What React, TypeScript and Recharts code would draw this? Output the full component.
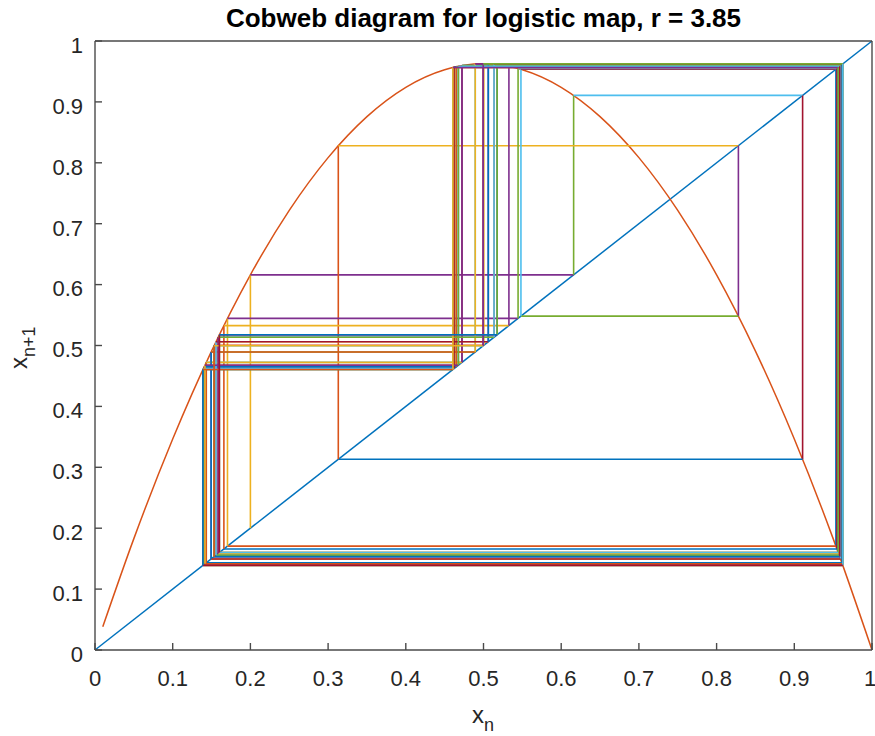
import React from "react";
import { LineChart, Line, XAxis, YAxis } from "recharts";

// ---- data ----
const TICKS = [0, 0.1, 0.2, 0.3, 0.4, 0.5, 0.6, 0.7, 0.8, 0.9, 1];
const TICK_LABELS = ["0", "0.1", "0.2", "0.3", "0.4", "0.5", "0.6", "0.7", "0.8", "0.9", "1"];

const TITLE = "Cobweb diagram for logistic map, r = 3.85";

// diagonal y = x
const DIAG_X = [0, 1];
const DIAG_Y = [0, 1];

// logistic curve r x (1 - x), r = 3.85
const CURVE_X = [0.01, 0.05, 0.1, 0.15, 0.2, 0.25, 0.3, 0.35, 0.4, 0.45, 0.5, 0.55, 0.6, 0.65, 0.7, 0.75, 0.8, 0.85, 0.9, 0.95, 1];
const CURVE_Y = [0.038115, 0.182875, 0.3465, 0.490875, 0.616, 0.721875, 0.8085, 0.875875, 0.924, 0.952875, 0.9625, 0.952875, 0.924, 0.875875, 0.8085, 0.721875, 0.616, 0.490875, 0.3465, 0.182875, 0];

// orbit x0 .. x80
const ORBIT = [
  0.2, 0.616, 0.910694, 0.313121, 0.828043, 0.548192, 0.953559, 0.170496, 0.544494, 0.954878,
  0.165881, 0.532704, 0.958382, 0.15356, 0.500421, 0.962499, 0.138963, 0.460662, 0.956542, 0.160041,
  0.517548, 0.961315, 0.143177, 0.472309, 0.959548, 0.149441, 0.489367, 0.962065, 0.14051, 0.464954,
  0.957771, 0.155715, 0.506151, 0.962354, 0.13948, 0.462096, 0.956969, 0.158541, 0.513613, 0.961787,
  0.1415, 0.467688, 0.95848, 0.153213, 0.499495, 0.962499, 0.138964, 0.460665, 0.956543, 0.160038,
  0.517539, 0.961316, 0.143173, 0.472298, 0.959545, 0.149449, 0.489389, 0.962067, 0.140504, 0.464936,
  0.957766, 0.155732, 0.506196, 0.962352, 0.139487, 0.462118, 0.956975, 0.158519, 0.513555, 0.961793,
  0.141478, 0.46763, 0.958466, 0.153265, 0.499633, 0.962499, 0.138963, 0.460661, 0.956542, 0.160043,
  0.517552,
];

const PALETTE = ["#0072BD", "#D95319", "#EDB120", "#7E2F8E", "#77AC30", "#4DBEEE", "#A2142F"];

// ---- derived tables ----
const diagData = DIAG_X.map((x, i) => ({ x, y: DIAG_Y[i] }));
const curveData = CURVE_X.map((x, i) => ({ x, y: CURVE_Y[i] }));

type Seg = { data: { x: number; y: number }[]; color: string };
const segments: Seg[] = [];
for (let i = 0; i < ORBIT.length - 1; i++) {
  const a = ORBIT[i];
  const b = ORBIT[i + 1];
  const kV = 2 * i;
  const kH = 2 * i + 1;
  segments.push({ data: [{ x: a, y: a }, { x: a, y: b }], color: PALETTE[(kV + 2) % 7] });
  segments.push({ data: [{ x: a, y: b }, { x: b, y: b }], color: PALETTE[(kH + 2) % 7] });
}

const FONT = "'Liberation Sans', Arial, Helvetica, sans-serif";
const AXIS_COLOR = "#4a4a4a";
const TEXT_COLOR = "#262626";

const labelIndex = (v: number) => TICKS.findIndex((t) => Math.abs(t - v) < 1e-9);

const XTick = (props: any) => {
  const { x, y, payload } = props;
  const idx = labelIndex(payload.value);
  const last = idx === TICKS.length - 1;
  return (
    <text
      x={last ? x - 2 : x}
      y={y}
      dy="0.71em"
      textAnchor="middle"
      fontSize={22}
      fontFamily={FONT}
      fill={TEXT_COLOR}
    >
      {idx >= 0 ? TICK_LABELS[idx] : String(payload.value)}
    </text>
  );
};

const YTick = (props: any) => {
  const { x, y, payload } = props;
  const idx = labelIndex(payload.value);
  return (
    <text x={x} y={y + 4} dy="0.355em" textAnchor="end" fontSize={22} fontFamily={FONT} fill={TEXT_COLOR}>
      {idx >= 0 ? TICK_LABELS[idx] : String(payload.value)}
    </text>
  );
};

export default function App() {
  return (
    <div style={{ position: "absolute", left: 0, top: 0, width: 875, height: 736, background: "#fff" }}>
      <LineChart width={875} height={736} margin={{ top: 40, right: 2, bottom: 46, left: 35 }}>
        <XAxis
          xAxisId="b"
          dataKey="x"
          type="number"
          domain={[0, 1]}
          ticks={TICKS}
          interval={0}
          height={40}
          tickSize={-7}
          tickMargin={27}
          tick={<XTick />}
          stroke={AXIS_COLOR}
          strokeWidth={1.4}
        />
        <XAxis
          xAxisId="t"
          orientation="top"
          dataKey="x"
          type="number"
          domain={[0, 1]}
          ticks={TICKS}
          interval={0}
          height={1}
          tickSize={-7}
          tick={false}
          stroke={AXIS_COLOR}
          strokeWidth={1.4}
        />
        <YAxis
          yAxisId="l"
          type="number"
          domain={[0, 1]}
          ticks={TICKS}
          interval={0}
          width={60}
          tickSize={-7}
          tickMargin={19}
          tick={<YTick />}
          stroke={AXIS_COLOR}
          strokeWidth={1.4}
        />
        <YAxis
          yAxisId="r"
          orientation="right"
          type="number"
          domain={[0, 1]}
          ticks={TICKS}
          interval={0}
          width={1}
          tickSize={-7}
          tick={false}
          stroke={AXIS_COLOR}
          strokeWidth={1.4}
        />
        <Line
          xAxisId="b"
          yAxisId="l"
          data={diagData}
          dataKey="y"
          type="linear"
          stroke={PALETTE[0]}
          strokeWidth={1.5}
          dot={false}
          activeDot={false}
          isAnimationActive={false}
        />
        <Line
          xAxisId="b"
          yAxisId="l"
          data={curveData}
          dataKey="y"
          type="monotoneX"
          stroke={PALETTE[1]}
          strokeWidth={1.5}
          dot={false}
          activeDot={false}
          isAnimationActive={false}
        />
        {segments.map((s, i) => (
          <Line
            key={i}
            xAxisId="b"
            yAxisId="l"
            data={s.data}
            dataKey="y"
            type="linear"
            stroke={s.color}
            strokeWidth={1.6}
            dot={false}
            activeDot={false}
            isAnimationActive={false}
          />
        ))}
      </LineChart>
      <svg
        width={875}
        height={736}
        style={{ position: "absolute", left: 0, top: 0, pointerEvents: "none" }}
      >
        <text x={483.5} y={27} textAnchor="middle" fontSize={26} fontWeight="bold" fontFamily={FONT} fill="#000">
          {TITLE}
        </text>
        <text x={472} y={723} fontSize={24} fontFamily={FONT} fill={TEXT_COLOR}>
          x<tspan fontSize={18} dy={8}>n</tspan>
        </text>
        <text transform="translate(27,369) rotate(-90)" fontSize={24} fontFamily={FONT} fill={TEXT_COLOR}>
          x<tspan fontSize={18} dy={8}>n+1</tspan>
        </text>
      </svg>
    </div>
  );
}
